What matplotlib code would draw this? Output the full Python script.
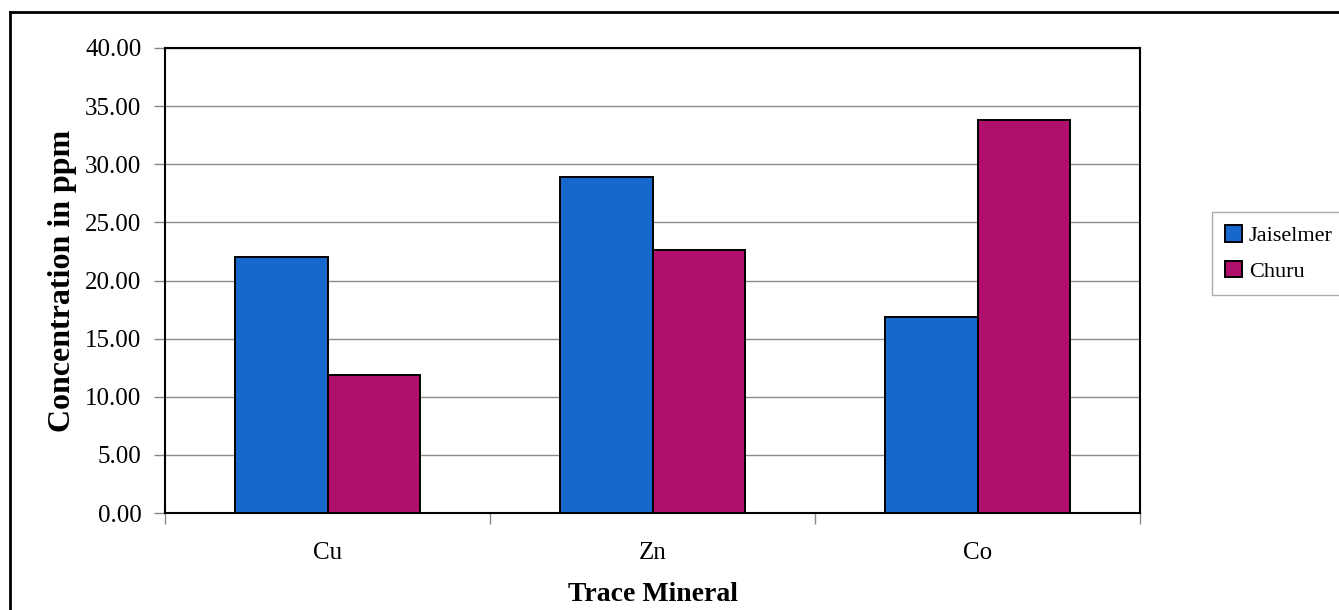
import matplotlib
matplotlib.use('Agg')
import matplotlib.pyplot as plt
from matplotlib.lines import Line2D
from matplotlib.ticker import FormatStrFormatter
import numpy as np

# ── Data ────────────────────────────────────────────────────────────────
minerals = ["Cu", "Zn", "Co"]
jaiselmer = [22.0, 28.9, 16.9]
churu = [11.9, 22.6, 33.8]
y_ticks = [0, 5, 10, 15, 20, 25, 30, 35, 40]

plt.rcParams['font.family'] = ['Liberation Serif', 'DejaVu Serif']

W, H = 1339, 610
fig = plt.figure(figsize=(W / 100, H / 100), dpi=100)
ax = fig.add_axes([165 / W, 1 - 513 / H, 975 / W, 465 / H])

x = np.arange(len(minerals))
bw = 0.285
ax.bar(x - bw / 2, jaiselmer, bw, color='#1768cc', edgecolor='black',
       linewidth=1.4, label='Jaiselmer', zorder=3)
ax.bar(x + bw / 2, churu, bw, color='#b0106c', edgecolor='black',
       linewidth=1.4, label='Churu', zorder=3)

ax.set_xlim(-0.5, len(minerals) - 0.5)
ax.set_ylim(0, 40)
ax.set_yticks(y_ticks)
ax.yaxis.set_major_formatter(FormatStrFormatter('%.2f'))
ax.tick_params(axis='y', labelsize=18, length=8, width=1, pad=9, color='#888888')
ax.grid(axis='y', color='#8c8c8c', linewidth=1, zorder=0)

ax.set_xticks(x)
ax.set_xticklabels(minerals)
ax.set_xticks(np.arange(-0.5, len(minerals), 1.0), minor=True)
ax.tick_params(axis='x', which='major', length=0, labelsize=18, pad=21)
ax.tick_params(axis='x', which='minor', length=8, width=1, color='#888888')

for s in ax.spines.values():
    s.set_color('black')
    s.set_linewidth(1.5)

ax.set_ylabel('Concentration in ppm', fontsize=23, fontweight='bold')
ax.yaxis.set_label_coords(-0.09, 0.5)
ax.set_xlabel('Trace Mineral', fontsize=20, fontweight='bold')
ax.xaxis.set_label_coords(0.5, -0.148)

leg = fig.legend(loc='upper left', bbox_to_anchor=(1212 / W, 1 - 212 / H),
                 borderaxespad=0, fontsize=16, frameon=True, fancybox=False,
                 edgecolor='#999999', handlelength=0.75, handleheight=0.75,
                 handletextpad=0.3, labelspacing=0.65, borderpad=0.6)
leg.get_frame().set_linewidth(1)

# outer chart frame (runs off the right and bottom of the scan)
fig.add_artist(Line2D([10 / W, 1.0], [1 - 12 / H, 1 - 12 / H],
                      transform=fig.transFigure, color='black', linewidth=2))
fig.add_artist(Line2D([10 / W, 10 / W], [0.0, 1 - 12 / H],
                      transform=fig.transFigure, color='black', linewidth=2))

fig.savefig('out.png', dpi=100)
